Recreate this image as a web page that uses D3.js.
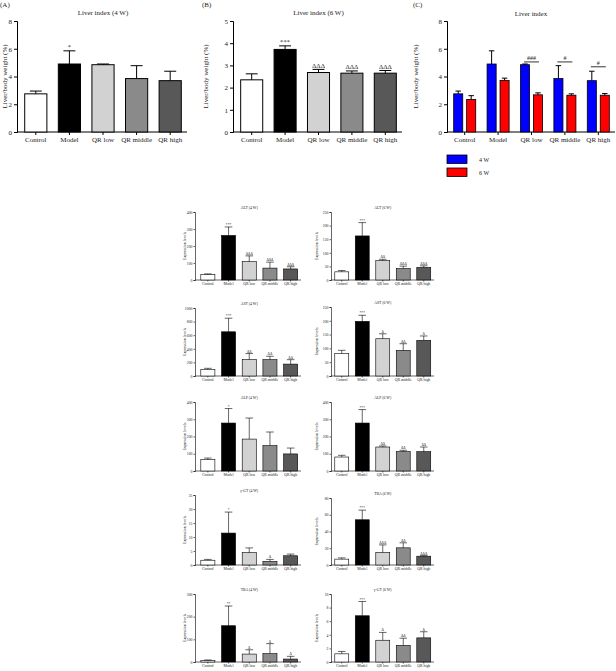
<!DOCTYPE html>
<meta charset="utf-8">
<script src="https://d3js.org/d3.v7.min.js"></script>
<style>
  body { margin: 0; background: #fff; }
  svg text { font-family: "Liberation Serif", "DejaVu Serif", serif; fill: #222; }
</style>
<div id="my_dataviz"></div>
<script>

// groups on every x axis
var groups = ["Control", "Model", "QR low", "QR middle", "QR high"];
var weeks = ["4 W", "6 W"];

// liver index (mean and SD)
var liver4wMean = [2.75, 4.9, 4.85, 3.85, 3.7];
var liver4wSd   = [0.2, 0.95, 0.05, 0.93, 0.68];
var liver4wSig  = ["", "*", "", "", ""];
var liver6wMean = [2.35, 3.72, 2.68, 2.65, 2.65];
var liver6wSd   = [0.27, 0.16, 0.14, 0.1, 0.12];
var liver6wSig  = ["", "***", "ΔΔΔ", "ΔΔΔ", "ΔΔΔ"];
var liverTicks8 = [0, 2, 4, 6, 8];
var liverTicks5 = [0, 1, 2, 3, 4, 5];
// 4 W vs 6 W comparisons in panel C
var hashGroups = ["QR low", "QR middle", "QR high"];
var hashLabels = ["###", "#", "#"];
var hashLevels = [5.05, 5.05, 4.7];

// serum markers
var alt4Mean = [33, 262, 108, 70, 65];
var alt4Sd   = [3, 50, 34, 35, 13];
var alt4Sig  = ["", "***", "ΔΔΔ", "ΔΔΔ", "ΔΔΔ"];
var alt6Mean = [30, 162, 71, 42, 46];
var alt6Sd   = [5, 49, 5, 9, 6];
var alt6Sig  = ["", "***", "ΔΔ", "ΔΔΔ", "ΔΔΔ"];
var ast4Mean = [98, 650, 240, 240, 175];
var ast4Sd   = [15, 200, 90, 50, 65];
var ast4Sig  = ["", "***", "ΔΔ", "ΔΔ", "ΔΔ"];
var ast6Mean = [81, 198, 135, 93, 129];
var ast6Sd   = [12, 22, 18, 24, 16];
var ast6Sig  = ["", "***", "Δ", "ΔΔ", "Δ"];
var alp4Mean = [66, 278, 185, 147, 99];
var alp4Sd   = [9, 84, 122, 79, 34];
var alp4Sig  = ["", "*", "", "", ""];
var alp6Mean = [81, 278, 139, 112, 112];
var alp6Sd   = [10, 78, 6, 8, 27];
var alp6Sig  = ["", "***", "ΔΔ", "ΔΔ", "ΔΔ"];
var ggt4Mean = [1.7, 11.4, 4.4, 1.3, 3.3];
var ggt4Sd   = [0.3, 7.5, 1.7, 0.7, 0.6];
var ggt4Sig  = ["", "*", "", "Δ", ""];
var ggt6Mean = [1.2, 6.8, 3.2, 2.45, 3.55];
var ggt6Sd   = [0.35, 2.1, 1.15, 1.05, 0.9];
var ggt6Sig  = ["", "***", "Δ", "ΔΔ", "Δ"];
var tba4Mean = [6, 160, 35, 37, 13];
var tba4Sd   = [3, 87, 19, 44, 12];
var tba4Sig  = ["", "**", "Δ", "Δ", "Δ"];
var tba6Mean = [7, 54, 15, 20.5, 10.5];
var tba6Sd   = [1.5, 11.5, 9, 6, 0.7];
var tba6Sig  = ["", "***", "ΔΔΔ", "ΔΔ", "ΔΔΔ"];

var ticks400 = [0, 100, 200, 300, 400];
var ticks250 = [0, 50, 100, 150, 200, 250];
var ticks1000 = [0, 200, 400, 600, 800, 1000];
var ticks25 = [0, 5, 10, 15, 20, 25];
var ticks80 = [0, 20, 40, 60, 80];
var ticks300 = [0, 100, 200, 300];
var ticks10 = [0, 2, 4, 6, 8, 10];

// styles
var barFill = ["#ffffff", "#000000", "#d2d2d2", "#8a8a8a", "#585858"];
var weekFill = ["#0000ff", "#ff0000"];

var svg = d3.select("#my_dataviz")
  .append("svg")
    .attr("width", 616)
    .attr("height", 671);

function styleAxis(sel, fs, lw) {
  sel.attr("font-family", null).attr("font-size", fs);
  sel.selectAll("path, line").attr("stroke", "#000").attr("stroke-width", lw);
  sel.selectAll("text").style("font-size", fs + "px");
}

// one bar panel: axes, bars, upward error bars, significance marks
function drawPanel(p) {
  var x = d3.scaleBand().domain(groups).range(p.xr).paddingInner(p.pad).paddingOuter(p.pad / 2);
  var y = d3.scaleLinear().domain([0, p.ticks[p.ticks.length - 1]]).range(p.yr);
  var g = svg.append("g");

  g.append("g")
    .attr("transform", "translate(" + p.axisX + ",0)")
    .call(d3.axisLeft(y).tickValues(p.ticks).tickFormat(d3.format("~g"))
      .tickSizeOuter(0).tickSize(p.tk).tickPadding(p.tk * 0.7))
    .call(styleAxis, p.fs, p.lw);

  var xa = g.append("g")
    .attr("transform", "translate(0," + p.yr[0] + ")")
    .call(d3.axisBottom(x).tickSizeOuter(0).tickSize(p.tk).tickPadding(p.tk * 0.8))
    .call(styleAxis, p.fs, p.lw);
  xa.select(".domain").remove();
  xa.append("line")
    .attr("x1", p.axisX).attr("x2", p.xr[1])
    .attr("stroke", "#000").attr("stroke-width", p.lw);

  var bw = x.bandwidth();
  g.selectAll(".bar").data(p.mean).enter().append("rect")
    .attr("x", function(d, i) { return x(groups[i]); })
    .attr("y", function(d) { return y(d); })
    .attr("width", bw)
    .attr("height", function(d) { return y(0) - y(d); })
    .attr("fill", function(d, i) { return barFill[i]; })
    .attr("stroke", "#000").attr("stroke-width", p.lw);

  var cx = function(i) { return x(groups[i]) + bw / 2; };
  g.selectAll(".err").data(p.mean).enter().append("line")
    .attr("x1", function(d, i) { return cx(i); }).attr("x2", function(d, i) { return cx(i); })
    .attr("y1", function(d) { return y(d); })
    .attr("y2", function(d, i) { return y(d + p.sd[i]); })
    .attr("stroke", "#000").attr("stroke-width", p.lw);
  g.selectAll(".cap").data(p.mean).enter().append("line")
    .attr("x1", function(d, i) { return cx(i) - bw * 0.27; })
    .attr("x2", function(d, i) { return cx(i) + bw * 0.27; })
    .attr("y1", function(d, i) { return y(d + p.sd[i]); })
    .attr("y2", function(d, i) { return y(d + p.sd[i]); })
    .attr("stroke", "#000").attr("stroke-width", p.lw);

  g.selectAll(".sig").data(p.sig).enter().append("text")
    .attr("x", function(d, i) { return cx(i); })
    .attr("y", function(d, i) { return y(p.mean[i] + p.sd[i]) - p.fs * 0.25; })
    .attr("text-anchor", "middle")
    .style("font-size", (p.fs * 0.95) + "px")
    .text(function(d) { return d; });

  g.append("text")
    .attr("x", (p.xr[0] + p.xr[1]) / 2)
    .attr("y", p.yr[1] - p.fs * 0.9)
    .attr("text-anchor", "middle")
    .style("font-size", p.fs + "px")
    .text(p.title);

  g.append("text")
    .attr("transform", "translate(" + p.labX + "," + (p.yr[0] + p.yr[1]) / 2 + ") rotate(-90)")
    .attr("text-anchor", "middle")
    .attr("dy", "0.35em")
    .style("font-size", p.lfs + "px")
    .text(p.ylabel);
}

// (A) and (B)
drawPanel({title: "Liver index (4 W)", ylabel: "Liver/body weight (%)", mean: liver4wMean, sd: liver4wSd, sig: liver4wSig,
  ticks: liverTicks8, xr: [19, 187], yr: [132, 21], axisX: 17, labX: 4.5, pad: 0.34, tk: 3, fs: 7, lfs: 7, lw: 1});
drawPanel({title: "Liver index (6 W)", ylabel: "Liver/body weight (%)", mean: liver6wMean, sd: liver6wSd, sig: liver6wSig,
  ticks: liverTicks5, xr: [235, 402], yr: [132, 21], axisX: 233, labX: 206, pad: 0.34, tk: 3, fs: 7, lfs: 7, lw: 1});

svg.append("text").attr("x", 0).attr("y", 7).style("font-size", "7px").text("(A)");
svg.append("text").attr("x", 202).attr("y", 7).style("font-size", "7px").text("(B)");
svg.append("text").attr("x", 413).attr("y", 7).style("font-size", "7px").text("(C)");

// (C) grouped bars, 4 W vs 6 W
(function() {
  var x = d3.scaleBand().domain(groups).range([448, 615]).paddingInner(0.34).paddingOuter(0.17);
  var xi = d3.scaleBand().domain(weeks).range([0, x.bandwidth()]).paddingInner(0.3);
  var y = d3.scaleLinear().domain([0, 8]).range([132, 21]);
  var g = svg.append("g");
  var means = [liver4wMean, liver6wMean], sds = [liver4wSd, liver6wSd];

  g.append("g").attr("transform", "translate(447,0)")
    .call(d3.axisLeft(y).tickValues(liverTicks8).tickFormat(d3.format("~g"))
      .tickSizeOuter(0).tickSize(3).tickPadding(2))
    .call(styleAxis, 7, 1);
  var xa = g.append("g").attr("transform", "translate(0,132)")
    .call(d3.axisBottom(x).tickSizeOuter(0).tickSize(3).tickPadding(2.4))
    .call(styleAxis, 7, 1);
  xa.select(".domain").remove();
  xa.append("line").attr("x1", 447).attr("x2", 615).attr("stroke", "#000");

  weeks.forEach(function(w, k) {
    var bx = function(i) { return x(groups[i]) + xi(w); };
    var bw = xi.bandwidth();
    g.selectAll(".b" + k).data(means[k]).enter().append("rect")
      .attr("x", function(d, i) { return bx(i); })
      .attr("y", function(d) { return y(d); })
      .attr("width", bw)
      .attr("height", function(d) { return y(0) - y(d); })
      .attr("fill", weekFill[k]).attr("stroke", "#000").attr("stroke-width", 0.8);
    g.selectAll(".e" + k).data(means[k]).enter().append("path")
      .attr("d", function(d, i) {
        var c = bx(i) + bw / 2, t = y(d + sds[k][i]);
        return "M" + c + "," + y(d) + "V" + t + "M" + (c - bw * 0.3) + "," + t + "H" + (c + bw * 0.3);
      })
      .attr("fill", "none").attr("stroke", "#000").attr("stroke-width", 1);
  });

  hashGroups.forEach(function(gr, j) {
    var x1 = x(gr) + xi("4 W") + xi.bandwidth() / 2 - 1;
    var x2 = x(gr) + xi("6 W") + xi.bandwidth() / 2 + 1;
    g.append("line").attr("x1", x1).attr("x2", x2)
      .attr("y1", y(hashLevels[j])).attr("y2", y(hashLevels[j]))
      .attr("stroke", "#000").attr("stroke-width", 0.8);
    g.append("text").attr("x", (x1 + x2) / 2).attr("y", y(hashLevels[j]) - 2)
      .attr("text-anchor", "middle").style("font-size", "6px").text(hashLabels[j]);
  });

  g.append("text").attr("x", 531).attr("y", 16).attr("text-anchor", "middle")
    .style("font-size", "7px").text("Liver index");
  g.append("text")
    .attr("transform", "translate(415.5,76.5) rotate(-90)")
    .attr("text-anchor", "middle").attr("dy", "0.35em")
    .style("font-size", "7px").text("Liver/body weight (%)");

  // legend
  weeks.forEach(function(w, k) {
    g.append("rect").attr("x", 447).attr("y", 155 + k * 13).attr("width", 20).attr("height", 8.5)
      .attr("fill", weekFill[k]).attr("stroke", "#000").attr("stroke-width", 0.8);
    g.append("text").attr("x", 479).attr("y", 162 + k * 13).style("font-size", "6px").text(w);
  });
})();

// serum marker panels, two columns
var leftCol = {xr: [197.5, 301], axisX: 195, labX: 184.5};
var rightCol = {xr: [331.5, 434], axisX: 331, labX: 316.5};

var small = [
  [leftCol, "ALT (4 W)", alt4Mean, alt4Sd, alt4Sig, ticks400, [280, 212]],
  [rightCol, "ALT (6 W)", alt6Mean, alt6Sd, alt6Sig, ticks250, [280, 212]],
  [leftCol, "AST (4 W)", ast4Mean, ast4Sd, ast4Sig, ticks1000, [376, 308]],
  [rightCol, "AST (6 W)", ast6Mean, ast6Sd, ast6Sig, ticks250, [376, 307]],
  [leftCol, "ALP (4 W)", alp4Mean, alp4Sd, alp4Sig, ticks400, [471, 402]],
  [rightCol, "ALP (6 W)", alp6Mean, alp6Sd, alp6Sig, ticks400, [471, 402]],
  [leftCol, "γ-GT (4 W)", ggt4Mean, ggt4Sd, ggt4Sig, ticks25, [565, 495]],
  [rightCol, "TBA (6 W)", tba6Mean, tba6Sd, tba6Sig, ticks80, [565, 498]],
  [leftCol, "TBA (4 W)", tba4Mean, tba4Sd, tba4Sig, ticks300, [662, 594]],
  [rightCol, "γ-GT (6 W)", ggt6Mean, ggt6Sd, ggt6Sig, ticks10, [662, 594]]
];

small.forEach(function(s) {
  drawPanel({title: s[1], ylabel: "Expression levels", mean: s[2], sd: s[3], sig: s[4], ticks: s[5],
    xr: s[0].xr, yr: s[6], axisX: s[0].axisX, labX: s[0].labX, pad: 0.32, tk: 1.5, fs: 3.8, lfs: 4, lw: 0.6});
});

</script>
